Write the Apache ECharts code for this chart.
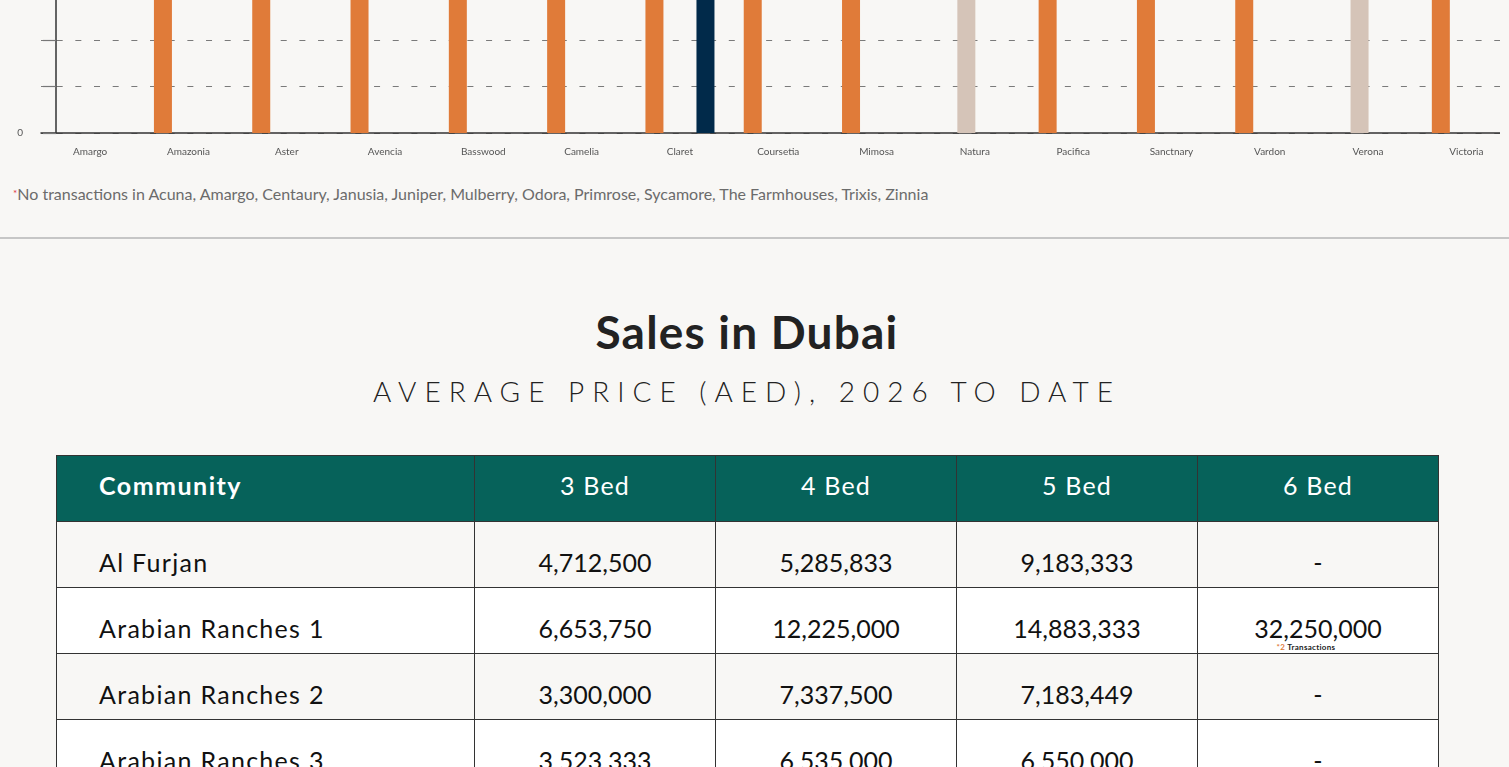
<!DOCTYPE html>
<html>
<head>
<meta charset="utf-8">
<script src="https://cdn.jsdelivr.net/npm/echarts@6/dist/echarts.min.js"></script>
<style>
  html, body { margin:0; padding:0; }
  body { width:1509px; height:767px; overflow:hidden; background:#f8f7f5; position:relative; font-family: Lato, "Open Sans", sans-serif; }
  #chartWrap { position:absolute; left:0; top:0; width:1500px; height:175px; overflow:hidden; }
  #chart { position:absolute; left:0; top:-300px; width:1530px; height:480px; }
  #note { position:absolute; left:13px; top:186px; font-size:16px; line-height:16px; color:#6b6b6b; white-space:nowrap; }
  #note sup { color:#e0303c; font-size:10px; vertical-align:top; position:relative; top:-1px; }
  #divider { position:absolute; left:0; top:237px; width:1509px; height:1.5px; background:#c6c6c6; }
  #title { position:absolute; left:0; width:1494px; top:309px; text-align:center; font-size:46px; line-height:46px; font-weight:700; color:#222; letter-spacing:1.2px; }
  #subtitle { position:absolute; left:0; width:1494px; top:377px; text-align:center; font-size:28px; line-height:28px; font-weight:300; color:#222; letter-spacing:8px; }
  #tbl { position:absolute; left:56px; top:455px; border-collapse:collapse; table-layout:fixed; }
  #tbl td, #tbl th { border:1.5px solid #333; font-size:25px; color:#111; font-weight:400; box-sizing:border-box; }
  #tbl th { background:#06625a; color:#fff; height:66px; padding:0 0 8px 0; text-align:center; letter-spacing:1.2px; }
  #tbl th.first { text-align:left; padding-left:42px; font-weight:700; letter-spacing:1.5px; }
  #tbl td { height:66px; padding:15px 0 0 0; text-align:center; position:relative; }
  #tbl td.first { text-align:left; padding-left:42px; letter-spacing:1.3px; }
  #tbl tr.odd td { background:#f8f7f5; }
  #tbl tr.even td { background:#ffffff; }
  .tnote { position:absolute; left:-12px; width:100%; bottom:2px; text-align:center; font-size:8px; line-height:8px; font-weight:700; color:#222; letter-spacing:0.3px; }
  .tnote span { color:#e07b39; }
</style>
</head>
<body>
<div id="chartWrap"><div id="chart"></div></div>
<div id="note"></div>
<div id="divider"></div>
<div id="title"></div>
<div id="subtitle"></div>
<table id="tbl"></table>
<script>
// ---- chart data (bars rise above the visible area; heights estimated) ----
const categories = ['Amargo','Amazonia','Aster','Avencia','Basswood','Camelia','Claret','Coursetia','Mimosa','Natura','Pacifica','Sanctnary','Vardon','Verona','Victoria'];
const seriesNames = ['3 Bed','4 Bed','5 Bed','6 Bed'];
const bed3 = [null, 4600000, 5200000, 4100000, 3900000, 6100000, 5500000, 4800000, 5000000, null, 4400000, 7200000, 5300000, null, 6400000];
const bed4 = [null, null, null, null, null, null, null, null, null, 4300000, null, null, null, 4900000, null];
const bed5 = [null, null, null, null, null, null, null, null, null, null, null, null, null, null, null];
const bed6 = [null, null, null, null, null, null, 8200000, null, null, null, null, null, null, null, null];
const yTicks = [0, 1000000, 2000000, 3000000, 4000000, 5000000, 6000000, 7000000, 8000000];

// ---- texts ----
const footnote = 'No transactions in Acuna, Amargo, Centaury, Janusia, Juniper, Mulberry, Odora, Primrose, Sycamore, The Farmhouses, Trixis, Zinnia';
const titleText = 'Sales in Dubai';
const subtitleText = 'AVERAGE PRICE (AED), 2026 TO DATE';

// ---- table data ----
const tableHeader = ['Community','3 Bed','4 Bed','5 Bed','6 Bed'];
const communities = ['Al Furjan','Arabian Ranches 1','Arabian Ranches 2','Arabian Ranches 3'];
const price3 = ['4,712,500','6,653,750','3,300,000','3,523,333'];
const price4 = ['5,285,833','12,225,000','7,337,500','6,535,000'];
const price5 = ['9,183,333','14,883,333','7,183,449','6,550,000'];
const price6 = ['-','32,250,000','-','-'];
const price6Notes = ['', '2 Transactions', '', ''];
const colWidths = [418, 241, 241, 241, 241];

document.getElementById('note').innerHTML = '<sup>*</sup>' + footnote;
document.getElementById('title').textContent = titleText;
document.getElementById('subtitle').textContent = subtitleText;

let html = '<colgroup>' + colWidths.map(w => '<col style="width:' + w + 'px">').join('') + '</colgroup>';
html += '<tr>' + tableHeader.map((h, i) => '<th class="' + (i === 0 ? 'first' : '') + '">' + h + '</th>').join('') + '</tr>';
communities.forEach((c, r) => {
  const n = price6Notes[r] ? '<div class="tnote"><span>*2</span> ' + price6Notes[r].replace(/^2 /, '') + '</div>' : '';
  html += '<tr class="' + (r % 2 === 0 ? 'odd' : 'even') + '">' +
    '<td class="first">' + c + '</td>' +
    '<td>' + price3[r] + '</td>' +
    '<td>' + price4[r] + '</td>' +
    '<td>' + price5[r] + '</td>' +
    '<td>' + price6[r] + n + '</td></tr>';
});
document.getElementById('tbl').innerHTML = html;

const colors = ['#e07b39', '#d5c4b8', '#06625a', '#012a4a'];
const data = [bed3, bed4, bed5, bed6];

const chart = echarts.init(document.getElementById('chart'), null, { renderer: 'canvas' });
chart.setOption({
  animation: false,
  backgroundColor: 'transparent',
  grid: { left: 41, right: 14.5, top: 61, bottom: 47, containLabel: false },
  xAxis: {
    type: 'category',
    data: categories,
    axisLine: { show: true, lineStyle: { color: '#333', width: 1.5 } },
    axisTick: { show: false },
    axisLabel: { fontSize: 10, color: '#555', margin: 14, fontFamily: 'Lato' },
    splitLine: { show: false }
  },
  yAxis: {
    type: 'value',
    min: yTicks[0],
    max: yTicks[yTicks.length - 1],
    interval: yTicks[1] - yTicks[0],
    offset: -15,
    axisLine: { show: true, lineStyle: { color: '#333', width: 1.5 } },
    axisTick: { show: true, length: 13, lineStyle: { color: '#777', width: 1.2 } },
    axisLabel: { fontSize: 10, color: '#555', margin: 33, fontFamily: 'Lato',
      formatter: v => v === 0 ? '0' : '' },
    splitLine: { show: true, lineStyle: { color: '#7a7a7a', width: 1.2, type: [6, 12.67], dashOffset: 3 } }
  },
  series: data.map((d, i) => ({
    name: seriesNames[i],
    type: 'bar',
    data: d,
    barWidth: 18,
    barGap: '-5.5%',
    itemStyle: { color: colors[i] }
  }))
});
</script>
</body>
</html>
